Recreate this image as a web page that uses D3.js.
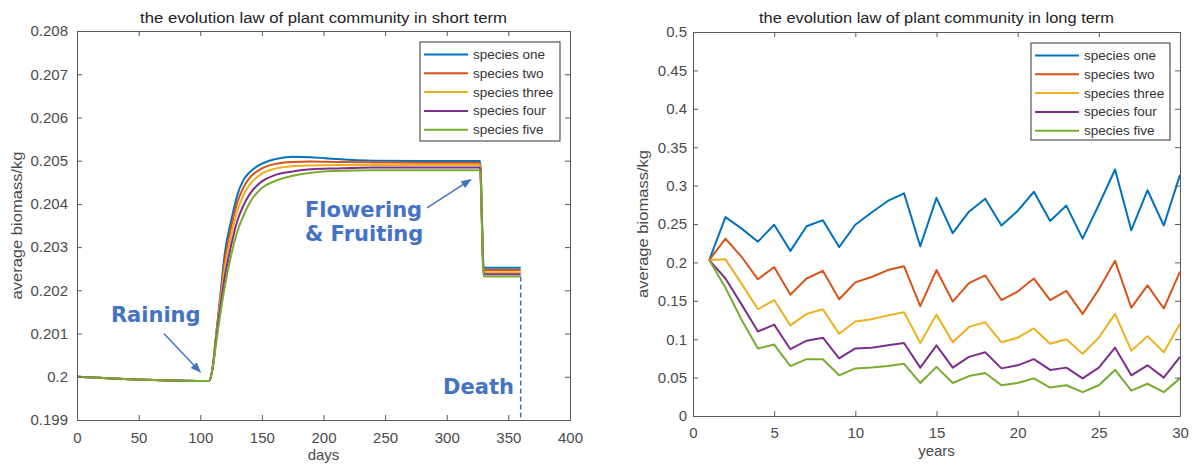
<!DOCTYPE html>
<html>
<head>
<meta charset="utf-8">
<script src="https://cdn.jsdelivr.net/npm/d3@7"></script>
<style>
  body { margin: 0; background: #fff; }
  svg { display: block; }
  text { font-family: "Liberation Sans", Arial, sans-serif; }
</style>
</head>
<body>
<svg id="chart" width="1193" height="467"></svg>
<script>
// ---------------- DATA ----------------
const seriesNames = ["species one", "species two", "species three", "species four", "species five"];
const seriesColors = ["#0072BD", "#D95319", "#EDB120", "#7E2F8E", "#77AC30"];

// Short term (days)
const days = [0, 107, 110, 113, 116, 120, 125, 130, 135, 140, 150, 160, 175, 190, 210, 240, 280, 327, 330, 360];
const shortOne   = [0.20000, 0.19990, 0.20020, 0.20100, 0.20180, 0.20287, 0.20360, 0.20420, 0.20455, 0.20473, 0.20493, 0.20503, 0.20509, 0.20508, 0.20504, 0.20500, 0.20499, 0.20499, 0.20252, 0.20252];
const shortTwo   = [0.20000, 0.19990, 0.20020, 0.20098, 0.20172, 0.20270, 0.20345, 0.20403, 0.20438, 0.20460, 0.20482, 0.20492, 0.20497, 0.20498, 0.20497, 0.20496, 0.20495, 0.20495, 0.20247, 0.20247];
const shortThree = [0.20000, 0.19990, 0.20020, 0.20094, 0.20164, 0.20252, 0.20325, 0.20383, 0.20420, 0.20444, 0.20470, 0.20481, 0.20487, 0.20489, 0.20490, 0.20490, 0.20490, 0.20490, 0.20242, 0.20242];
const shortFour  = [0.20000, 0.19990, 0.20020, 0.20088, 0.20154, 0.20232, 0.20303, 0.20360, 0.20396, 0.20422, 0.20452, 0.20466, 0.20475, 0.20480, 0.20482, 0.20484, 0.20484, 0.20484, 0.20237, 0.20237];
const shortFive  = [0.20000, 0.19990, 0.20020, 0.20080, 0.20140, 0.20210, 0.20280, 0.20335, 0.20372, 0.20402, 0.20437, 0.20452, 0.20465, 0.20472, 0.20476, 0.20478, 0.20478, 0.20478, 0.20232, 0.20232];

// Long term (years)
const years = [1,2,3,4,5,6,7,8,9,10,11,12,13,14,15,16,17,18,19,20,21,22,23,24,25,26,27,28,29,30];
const longOne   = [0.203,0.259,0.244,0.227,0.249,0.215,0.247,0.255,0.220,0.249,0.265,0.280,0.290,0.221,0.284,0.238,0.266,0.283,0.248,0.267,0.292,0.254,0.274,0.231,0.275,0.321,0.242,0.294,0.248,0.314];
const longTwo   = [0.203,0.231,0.207,0.178,0.194,0.158,0.179,0.189,0.152,0.174,0.181,0.190,0.195,0.143,0.190,0.149,0.173,0.183,0.151,0.162,0.179,0.151,0.163,0.133,0.165,0.202,0.141,0.170,0.140,0.188];
const longThree = [0.203,0.204,0.172,0.139,0.151,0.118,0.133,0.139,0.107,0.123,0.126,0.131,0.135,0.095,0.132,0.096,0.116,0.122,0.096,0.102,0.114,0.094,0.100,0.081,0.102,0.133,0.085,0.104,0.083,0.120];
const longFour  = [0.203,0.179,0.145,0.110,0.119,0.087,0.098,0.102,0.075,0.088,0.089,0.092,0.095,0.063,0.092,0.063,0.077,0.083,0.062,0.066,0.074,0.060,0.063,0.049,0.063,0.089,0.053,0.066,0.050,0.077];
const longFive  = [0.203,0.167,0.125,0.088,0.093,0.065,0.074,0.074,0.053,0.062,0.063,0.065,0.068,0.043,0.064,0.043,0.052,0.056,0.040,0.043,0.049,0.037,0.040,0.031,0.040,0.060,0.033,0.042,0.031,0.049];

// Ticks
const shortXTicks = [0, 50, 100, 150, 200, 250, 300, 350, 400];
const shortYTicks = [0.199, 0.200, 0.201, 0.202, 0.203, 0.204, 0.205, 0.206, 0.207, 0.208];
const shortYLabels = ["0.199", "0.2", "0.201", "0.202", "0.203", "0.204", "0.205", "0.206", "0.207", "0.208"];
const longXTicks = [0, 5, 10, 15, 20, 25, 30];
const longYTicks = [0, 0.05, 0.1, 0.15, 0.2, 0.25, 0.3, 0.35, 0.4, 0.45, 0.5];
const longYLabels = ["0", "0.05", "0.1", "0.15", "0.2", "0.25", "0.3", "0.35", "0.4", "0.45", "0.5"];

const shortSeries = [shortOne, shortTwo, shortThree, shortFour, shortFive];
const longSeries = [longOne, longTwo, longThree, longFour, longFive];

// ---------------- DRAW ----------------
const svg = d3.select("#chart");
const axisColor = "#5a5a5a";
const textColor = "#4a4a4a";
const annoColor = "#4472C4";

function drawPanel(cfg) {
  const { x, y, xTicks, yTicks, yLabels, xs, series, title, xLabel, yLabel, xPad, yPad, titleLen, yLabelX, legend, curve } = cfg;
  const g = svg.append("g");
  const [x0, x1] = x.range();
  const [y0, y1] = y.range(); // y0 bottom, y1 top

  // lines
  series.forEach((vals, i) => {
    const line = d3.line().x((d, j) => x(xs[j])).y(d => y(d)).curve(curve);
    g.append("path").datum(vals)
      .attr("fill", "none").attr("stroke", seriesColors[i])
      .attr("stroke-width", 2).attr("stroke-linejoin", "round")
      .attr("d", line);
  });

  // axes
  const bottom = g.append("g").attr("transform", `translate(0,${y0})`)
    .call(d3.axisBottom(x).tickValues(xTicks).tickSizeInner(-5).tickSizeOuter(0).tickPadding(xPad));
  const top = g.append("g").attr("transform", `translate(0,${y1})`)
    .call(d3.axisTop(x).tickValues(xTicks).tickSizeInner(-5).tickSizeOuter(0).tickFormat(""));
  const left = g.append("g").attr("transform", `translate(${x0},0)`)
    .call(d3.axisLeft(y).tickValues(yTicks).tickSizeInner(-5).tickSizeOuter(0).tickPadding(yPad)
      .tickFormat((d, i) => yLabels[i]));
  const right = g.append("g").attr("transform", `translate(${x1},0)`)
    .call(d3.axisRight(y).tickValues(yTicks).tickSizeInner(-5).tickSizeOuter(0).tickFormat(""));
  [bottom, top, left, right].forEach(a => {
    a.selectAll("path,line").attr("stroke", axisColor);
    a.selectAll("text").attr("fill", textColor).style("font-size", "15px")
      .style("font-family", "'Liberation Sans', Arial, sans-serif");
  });

  // title
  g.append("text").attr("x", (x0 + x1) / 2).attr("y", 23)
    .attr("text-anchor", "middle").attr("fill", "#222")
    .style("font-size", "14px")
    .attr("textLength", titleLen).attr("lengthAdjust", "spacingAndGlyphs")
    .text(title);
  // x label
  g.append("text").attr("x", (x0 + x1) / 2).attr("y", cfg.xLabelY)
    .attr("text-anchor", "middle").attr("fill", textColor)
    .style("font-size", "15px").text(xLabel);
  // y label
  g.append("text").attr("transform", `translate(${yLabelX},${(y0 + y1) / 2}) rotate(-90)`)
    .attr("text-anchor", "middle").attr("fill", textColor)
    .style("font-size", "15px")
    .attr("textLength", 148).attr("lengthAdjust", "spacingAndGlyphs")
    .text(yLabel);

  // legend
  const lg = g.append("g");
  lg.append("rect").attr("x", legend.x).attr("y", legend.y)
    .attr("width", legend.w).attr("height", legend.h)
    .attr("fill", "#fff").attr("stroke", "#333").attr("stroke-width", 1);
  seriesNames.forEach((name, i) => {
    const ry = legend.y + 12.5 + i * 18.8;
    lg.append("line").attr("x1", legend.x + 4).attr("x2", legend.x + 48)
      .attr("y1", ry).attr("y2", ry)
      .attr("stroke", seriesColors[i]).attr("stroke-width", 2);
    lg.append("text").attr("x", legend.x + 53).attr("y", ry + 4.5)
      .attr("fill", "#333").style("font-size", "13.5px").text(name);
  });
  return g;
}

// Short-term panel
const xS = d3.scaleLinear().domain([0, 400]).range([77, 570]);
const yS = d3.scaleLinear().domain([0.199, 0.208]).range([420, 31]);
const gS = drawPanel({
  x: xS, y: yS, xTicks: shortXTicks, yTicks: shortYTicks, yLabels: shortYLabels,
  xs: days, series: shortSeries, curve: d3.curveMonotoneX,
  title: "the evolution law of plant community in short term", titleLen: 367,
  xLabel: "days", yLabel: "average biomass/kg", xPad: 12, yPad: 9, xLabelY: 460, yLabelX: 22,
  legend: { x: 420, y: 42, w: 140, h: 99 }
});

// annotations (short-term)
const defs = svg.append("defs");
defs.append("marker").attr("id", "arrow").attr("viewBox", "0 0 10 10")
  .attr("refX", 9).attr("refY", 5).attr("markerWidth", 7).attr("markerHeight", 7)
  .attr("orient", "auto-start-reverse")
  .append("path").attr("d", "M0,1 L10,5 L0,9 z").attr("fill", annoColor);

const annoFont = "'DejaVu Sans', Verdana, sans-serif";
function anno(text, day, val, anchor) {
  gS.append("text").attr("x", xS(day)).attr("y", yS(val))
    .attr("text-anchor", anchor || "start").attr("fill", annoColor)
    .style("font-family", annoFont).style("font-weight", "bold").style("font-size", "21px")
    .text(text);
}
function arrow(d0, v0, d1, v1) {
  gS.append("line").attr("x1", xS(d0)).attr("y1", yS(v0)).attr("x2", xS(d1)).attr("y2", yS(v1))
    .attr("stroke", annoColor).attr("stroke-width", 1.5).attr("marker-end", "url(#arrow)");
}
anno("Raining", 27.5, 0.20126);
arrow(70.5, 0.20100, 100, 0.20011);
anno("Flowering", 185, 0.20370);
anno("& Fruiting", 185, 0.20313);
arrow(284, 0.20391, 319.5, 0.20456);
anno("Death", 297, 0.19961);
gS.append("line").attr("x1", xS(360)).attr("x2", xS(360))
  .attr("y1", yS(0.20232)).attr("y2", yS(0.199))
  .attr("stroke", annoColor).attr("stroke-width", 1.5).attr("stroke-dasharray", "5,3");

// Long-term panel
const xL = d3.scaleLinear().domain([0, 30]).range([693, 1180]);
const yL = d3.scaleLinear().domain([0, 0.5]).range([416, 32]);
drawPanel({
  x: xL, y: yL, xTicks: longXTicks, yTicks: longYTicks, yLabels: longYLabels,
  xs: years, series: longSeries, curve: d3.curveLinear,
  title: "the evolution law of plant community in long term", titleLen: 355,
  xLabel: "years", yLabel: "average biomass/kg", xPad: 11, yPad: 6, xLabelY: 456, yLabelX: 648,
  legend: { x: 1031, y: 43, w: 139, h: 97 }
});
</script>
</body>
</html>
